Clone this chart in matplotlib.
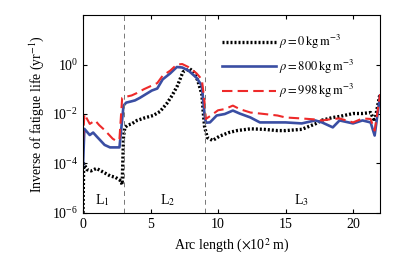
import numpy as np
import matplotlib
matplotlib.use("Agg")
import matplotlib.pyplot as plt

plt.rcParams["font.family"] = ["Liberation Serif", "DejaVu Serif"]
plt.rcParams["mathtext.fontset"] = "stix"

# arc length (x10^2 m) and log10 of inverse fatigue life (1/yr)
x_rho0 = [0, 0.05, 0.3, 0.6, 1.0, 1.5, 2.0, 2.4, 2.8, 2.9, 3.0, 3.1, 3.3, 3.6, 4.0,
          4.6, 5.2, 5.7, 6.2, 6.6, 7.0, 7.4, 7.9, 8.2, 8.5, 8.8, 8.9, 9.0, 9.2, 9.6,
          10.1, 10.8, 11.4, 12.4, 13.4, 14.4, 15.0, 16.2, 17.2, 17.7, 18.5, 19.0,
          20.0, 20.7, 21.3, 21.6, 22.0]
log_rho0 = [-6.0, -4.0, -4.25, -4.3, -4.2, -4.35, -4.5, -4.56, -4.7, -4.85, -2.9,
            -2.55, -2.45, -2.4, -2.26, -2.15, -2.06, -1.9, -1.58, -1.25, -0.85, -0.3,
            -0.17, -0.3, -0.65, -1.2, -1.9, -2.5, -2.95, -3.07, -2.9, -2.75, -2.67,
            -2.6, -2.62, -2.67, -2.67, -2.62, -2.4, -2.25, -2.14, -2.1, -1.98, -1.98,
            -1.94, -2.3, -1.17]

x_rho800 = [0, 0.1, 0.5, 0.75, 1.0, 1.6, 2.0, 2.6, 2.7, 3.0, 3.2, 3.5, 3.85, 4.2,
            4.5, 5.1, 5.5, 5.9, 6.45, 6.95, 7.35, 7.8, 8.4, 8.8, 9.0, 9.1, 9.4, 9.9,
            10.5, 11.1, 11.6, 12.4, 13.1, 14.4, 15.0, 16.2, 17.2, 17.7, 18.5, 19.0,
            20.0, 20.7, 21.3, 21.6, 22.0]
log_rho800 = [-4.1, -2.6, -2.85, -2.75, -2.9, -3.25, -3.35, -3.35, -3.35, -1.66,
              -1.54, -1.5, -1.45, -1.35, -1.25, -1.05, -0.97, -0.6, -0.36, -0.1,
              -0.12, -0.24, -0.53, -0.85, -2.0, -2.35, -2.34, -2.06, -2.0, -1.86,
              -1.98, -2.14, -2.34, -2.34, -2.34, -2.38, -2.26, -2.34, -2.54, -2.26,
              -2.38, -2.26, -2.34, -2.87, -1.25]

x_rho998 = [0, 0.1, 0.5, 0.9, 1.2, 1.6, 2.2, 2.5, 2.7, 2.9, 3.2, 3.6, 4.0, 4.5,
            5.1, 5.5, 5.9, 6.45, 6.95, 7.35, 7.8, 8.4, 8.8, 9.0, 9.1, 9.5, 10.0,
            10.5, 11.1, 11.6, 12.4, 13.1, 14.4, 15.0, 16.2, 17.2, 17.7, 18.5, 19.0,
            20.0, 20.7, 21.3, 21.6, 22.0]
log_rho998 = [-3.1, -2.0, -2.4, -2.26, -2.45, -2.65, -3.0, -3.1, -3.0, -1.35, -1.3,
              -1.25, -1.15, -1.0, -0.85, -0.75, -0.45, -0.25, 0.0, 0.02, -0.1, -0.35,
              -0.6, -1.5, -2.2, -2.05, -1.85, -1.8, -1.66, -1.8, -1.94, -1.98, -2.06,
              -2.14, -2.18, -2.22, -2.26, -2.2, -2.18, -2.34, -2.18, -2.2, -2.67, -1.2]

segment_bounds = [3, 9]
segment_labels = ["L$_1$", "L$_2$", "L$_3$"]
segment_label_x = [1.4, 6.3, 16.2]

fig = plt.figure(figsize=(4.14, 2.6), dpi=100)
ax = fig.add_axes([0.2005, 0.181, 0.7175, 0.761])

ax.plot(x_rho0, 10.0 ** np.array(log_rho0), color="black", lw=2.4,
        ls=(0, (0.6, 0.6)), label=r"$\rho = 0\,\mathrm{kg\,m^{-3}}$")
ax.plot(x_rho800, 10.0 ** np.array(log_rho800), color="#3a4ea3", lw=1.9,
        label=r"$\rho = 800\,\mathrm{kg\,m^{-3}}$")
ax.plot(x_rho998, 10.0 ** np.array(log_rho998), color="#ee2a2a", lw=1.5,
        ls=(0, (5, 2.5)), label=r"$\rho = 998\,\mathrm{kg\,m^{-3}}$")

for xb in segment_bounds:
    ax.axvline(xb, color="#777777", lw=0.7, ls=(0, (5, 4)))
for lab, xl in zip(segment_labels, segment_label_x):
    ax.text(xl, 10 ** -5.5, lab, ha="center", va="center", fontsize=10)

ax.set_yscale("log")
ax.set_xlim(0, 22)
ax.set_ylim(1e-6, 1e2)
ax.set_xticks([0, 5, 10, 15, 20])
ax.set_yticks([1e-6, 1e-4, 1e-2, 1e0])
ax.minorticks_off()
ax.tick_params(direction="in", top=True, right=True, labelsize=10, length=3)

ax.set_xlabel(r"Arc length ($\times$10$^2$ m)", fontsize=10)
ax.set_ylabel(r"Inverse of fatigue life (yr$^{-1}$)", fontsize=10)

ax.legend(loc="upper left", bbox_to_anchor=(0.43, 0.965), frameon=False,
          fontsize=9, handlelength=4.3, labelspacing=0.5, handletextpad=0.3)

fig.savefig("out.png", dpi=100)
